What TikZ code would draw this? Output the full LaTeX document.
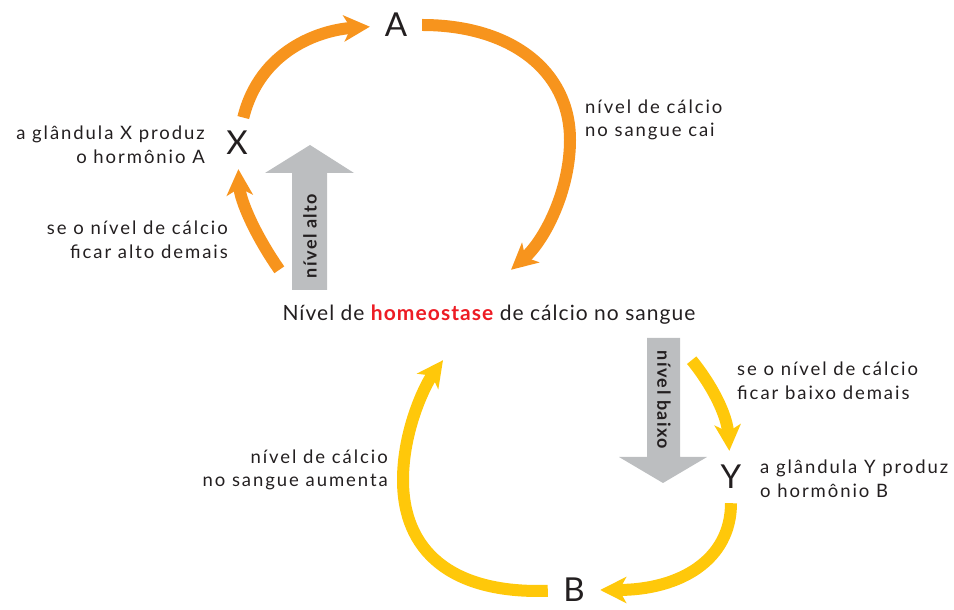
\documentclass[tikz,border=0pt]{standalone}
\usepackage{fontspec}
\setmainfont{Lato}
\newfontfamily\lblfont{Lato}[LetterSpace=10.5]
\newfontfamily\mainfont{Lato}[LetterSpace=5]
\newfontfamily\barfont{Lato}[LetterSpace=8]
\usetikzlibrary{arrows.meta}
\definecolor{orng}{HTML}{F7941D}
\definecolor{yllw}{HTML}{FFC80A}
\definecolor{gry}{HTML}{BCBEC0}
\definecolor{hred}{HTML}{ED1C24}
\definecolor{txt}{HTML}{231F20}

\begin{document}
\begin{tikzpicture}[x=1pt,y=1pt,text=txt,
	letter/.style={circle,minimum size=52pt,inner sep=0pt,font=\fontsize{33}{33}\selectfont},
	lbl/.style={font=\lblfont\fontsize{18.5}{23.5}\selectfont,inner sep=0pt},
	cycle/.style={line width=12pt,-{Stealth[length=26pt,width=26pt,inset=7pt]}},
	bartext/.style={font=\barfont\bfseries\fontsize{18}{18}\selectfont,inner sep=0pt}]
	\useasboundingbox (0,0) rectangle (954,610);
			\node[letter] (a) at (396,585) {A};
			\node[letter] (x) at (237,467) {X};
			\node[letter] (y) at (731,133) {Y};
			\node[letter,rectangle,minimum size=0pt,minimum width=52pt] (b) at (574,20) {B};
			\node[font=\mainfont\fontsize{21}{21}\selectfont,inner xsep=0pt,minimum height=90pt] (homeo) at (489,295)
				{Nível de \textcolor{hred}{\bfseries homeostase} de cálcio no sangue};
			\node[lbl,anchor=east,align=right] (lx) at (205,465) {a glândula X produz\\o hormônio A};
			\node[lbl,anchor=east,align=right] (lhigh) at (228,370) {se o nível de cálcio\\ficar alto demais};
			\node[lbl,anchor=west,align=left] (lfall) at (585,490) {nível de cálcio\\no sangue cai};
			\node[lbl,anchor=west,align=left] (llow) at (737,229) {se o nível de cálcio\\ficar baixo demais};
			\node[lbl,anchor=west,align=left] (ly) at (760,131) {a glândula Y produz\\o hormônio B};
			\node[lbl,anchor=east,align=right] (lrise) at (388,140) {nível de cálcio\\no sangue aumenta};
			\fill[gry] (292,320) -- (292,437) -- (265,437) -- (310,465) -- (354,437) -- (327,437) -- (327,320) -- cycle;
			\fill[gry] (647,272) -- (647,153) -- (619,153) -- (663,127) -- (707,153) -- (680,153) -- (680,272) -- cycle;
			\node[bartext,rotate=90] (alto) at (310,374) {nível alto};
			\node[bartext,rotate=-90] (baixo) at (664,210) {nível baixo};
			\draw[cycle,orng] (x) .. controls (260,560) and (320,580) .. (a);
			\draw[cycle,orng] (a) .. controls (510,585) and (570,540) .. (570,470)
				.. controls (570,420) and (545,370) .. ([xshift=22pt]homeo.north);
			\draw[cycle,orng] ([xshift=-3pt]homeo.north west) .. controls (255,375) and (240,410) .. (x);
			\draw[cycle,yllw] ([xshift=-4pt]homeo.south east) .. controls (712,225) and (727,195) .. (y);
			\draw[cycle,yllw] (y) .. controls (731,50) and (680,20) .. (b);
			\draw[cycle,yllw] (b) .. controls (450,16) and (403,60) .. (403,130)
				.. controls (403,180) and (425,225) .. ([xshift=-46pt]homeo.south);
\end{tikzpicture}
\end{document}
